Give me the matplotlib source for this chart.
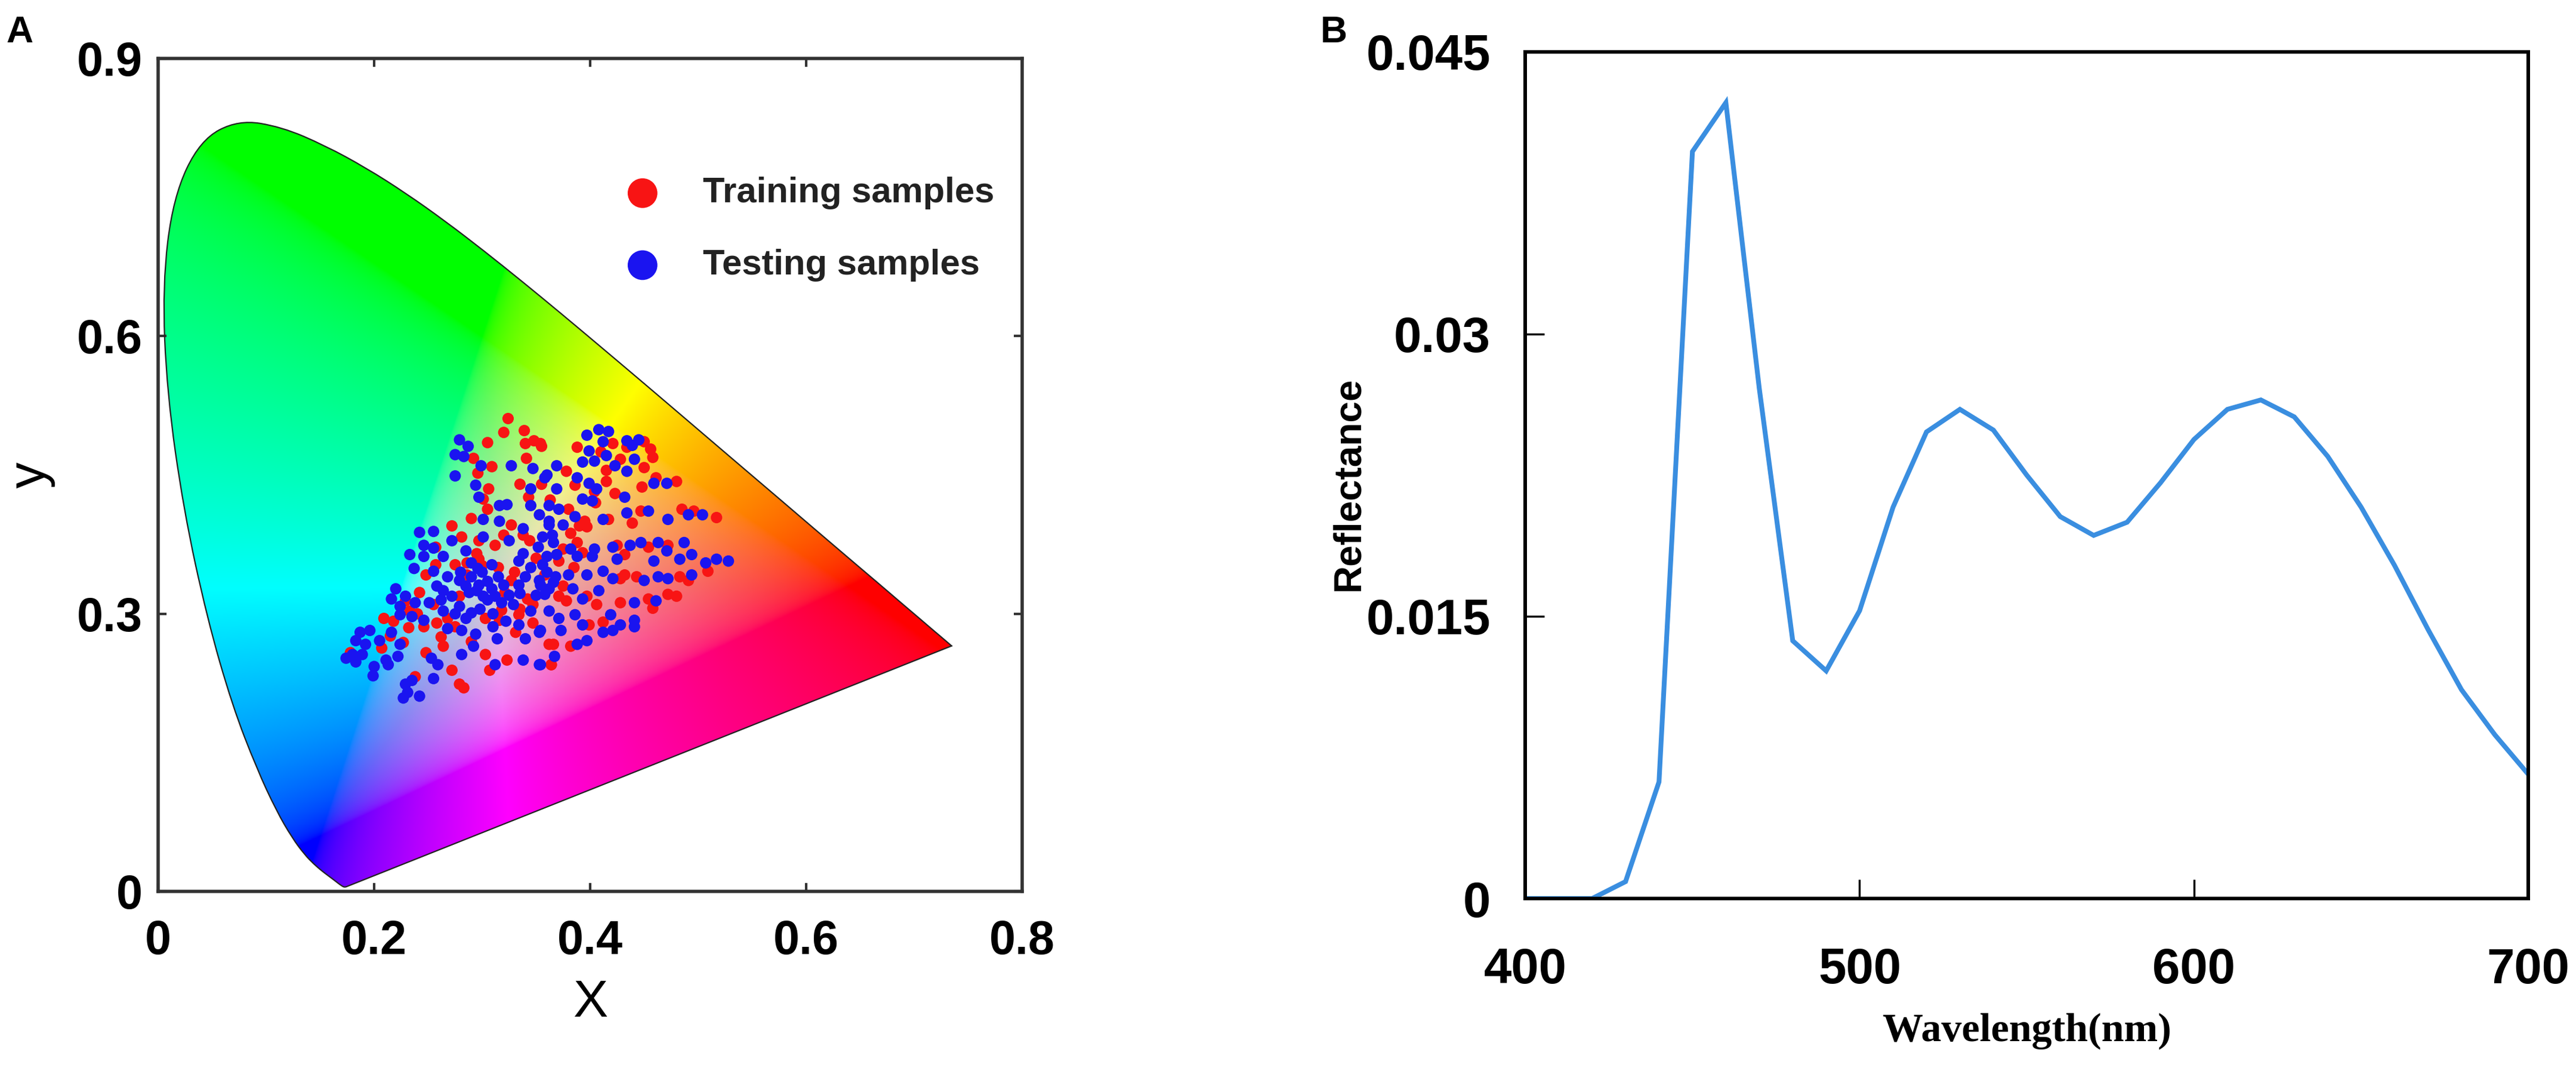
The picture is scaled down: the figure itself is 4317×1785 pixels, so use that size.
import numpy as np
import matplotlib
matplotlib.use("Agg")
import matplotlib.pyplot as plt
from matplotlib.path import Path
from matplotlib.patches import PathPatch

# CIE 1931 2-degree spectral locus, 380-700 nm every 5 nm
locus_x = [0.1741, 0.1740, 0.1738, 0.1736, 0.1733, 0.1730, 0.1726, 0.1721, 0.1714, 0.1703,
           0.1689, 0.1669, 0.1644, 0.1611, 0.1566, 0.1510, 0.1440, 0.1355, 0.1241, 0.1096,
           0.0913, 0.0687, 0.0454, 0.0235, 0.0082, 0.0039, 0.0139, 0.0389, 0.0743, 0.1142,
           0.1547, 0.1929, 0.2296, 0.2658, 0.3016, 0.3373, 0.3731, 0.4087, 0.4441, 0.4788,
           0.5125, 0.5448, 0.5752, 0.6029, 0.6270, 0.6482, 0.6658, 0.6801, 0.6915, 0.7006,
           0.7079, 0.7140, 0.7190, 0.7230, 0.7260, 0.7283, 0.7300, 0.7311, 0.7320, 0.7327,
           0.7334, 0.7340, 0.7344, 0.7346, 0.7347]
locus_y = [0.0050, 0.0050, 0.0049, 0.0049, 0.0048, 0.0048, 0.0048, 0.0048, 0.0051, 0.0058,
           0.0069, 0.0086, 0.0109, 0.0138, 0.0177, 0.0227, 0.0297, 0.0399, 0.0578, 0.0868,
           0.1327, 0.2007, 0.2950, 0.4127, 0.5384, 0.6548, 0.7502, 0.8120, 0.8338, 0.8262,
           0.8059, 0.7816, 0.7543, 0.7243, 0.6923, 0.6589, 0.6245, 0.5896, 0.5547, 0.5202,
           0.4866, 0.4544, 0.4242, 0.3965, 0.3725, 0.3514, 0.3340, 0.3197, 0.3083, 0.2993,
           0.2920, 0.2859, 0.2809, 0.2770, 0.2740, 0.2717, 0.2700, 0.2689, 0.2680, 0.2673,
           0.2666, 0.2660, 0.2656, 0.2654, 0.2653]

# training samples (red)
train_xy = [
    (0.324, 0.511), (0.320, 0.496), (0.339, 0.498), (0.305, 0.485), (0.340, 0.484), (0.348, 0.487),
    (0.355, 0.481), (0.341, 0.468), (0.292, 0.468), (0.309, 0.459), (0.296, 0.452), (0.335, 0.440),
    (0.343, 0.426), (0.306, 0.435), (0.301, 0.424), (0.305, 0.413), (0.290, 0.403), (0.327, 0.396),
    (0.272, 0.395), (0.281, 0.383), (0.297, 0.379), (0.344, 0.379), (0.312, 0.374), (0.257, 0.372),
    (0.248, 0.342), (0.257, 0.353), (0.275, 0.353), (0.286, 0.355), (0.297, 0.359), (0.327, 0.336),
    (0.321, 0.323), (0.342, 0.316), (0.242, 0.323), (0.229, 0.314), (0.279, 0.319), (0.255, 0.310),
    (0.209, 0.295), (0.218, 0.292), (0.233, 0.303), (0.246, 0.286), (0.215, 0.276), (0.227, 0.269),
    (0.207, 0.263), (0.248, 0.258), (0.264, 0.265), (0.303, 0.256), (0.323, 0.250), (0.307, 0.239),
    (0.272, 0.239), (0.279, 0.224), (0.283, 0.220), (0.238, 0.232), (0.275, 0.286), (0.303, 0.295),
    (0.316, 0.293), (0.331, 0.280), (0.362, 0.267), (0.364, 0.245), (0.347, 0.310), (0.334, 0.299),
    (0.358, 0.342), (0.318, 0.304), (0.178, 0.258), (0.286, 0.342),
    (0.354, 0.484), (0.388, 0.480), (0.410, 0.475), (0.421, 0.484), (0.434, 0.480), (0.450, 0.486),
    (0.456, 0.478), (0.458, 0.469), (0.450, 0.458), (0.428, 0.467), (0.448, 0.437), (0.461, 0.447),
    (0.480, 0.443), (0.378, 0.454), (0.386, 0.439), (0.415, 0.443), (0.423, 0.430), (0.404, 0.432),
    (0.380, 0.413), (0.395, 0.400), (0.397, 0.394), (0.417, 0.402), (0.439, 0.398), (0.447, 0.411),
    (0.485, 0.413), (0.496, 0.411), (0.517, 0.404), (0.382, 0.387), (0.388, 0.377), (0.393, 0.366),
    (0.371, 0.357), (0.425, 0.374), (0.432, 0.364), (0.454, 0.372), (0.472, 0.374), (0.509, 0.346),
    (0.432, 0.342), (0.443, 0.340), (0.483, 0.340), (0.491, 0.336), (0.371, 0.319), (0.378, 0.314),
    (0.397, 0.319), (0.406, 0.310), (0.428, 0.312), (0.454, 0.316), (0.458, 0.306), (0.472, 0.321),
    (0.480, 0.319), (0.399, 0.288), (0.412, 0.291), (0.366, 0.267), (0.382, 0.265), (0.364, 0.245),
    (0.428, 0.338),
    (0.330, 0.345), (0.315, 0.350), (0.300, 0.352), (0.295, 0.365), (0.335, 0.305), (0.347, 0.290),
    (0.268, 0.295), (0.258, 0.290), (0.240, 0.300), (0.232, 0.285), (0.262, 0.275), (0.290, 0.270),
    (0.350, 0.360), (0.338, 0.385), (0.320, 0.385), (0.375, 0.330), (0.385, 0.350), (0.375, 0.370),
    (0.390, 0.395), (0.405, 0.420), (0.415, 0.455), (0.363, 0.423), (0.355, 0.440),
]

# testing samples (blue)
test_xy = [
    (0.279, 0.488), (0.287, 0.481), (0.275, 0.472), (0.283, 0.470), (0.299, 0.460), (0.327, 0.460),
    (0.347, 0.457), (0.360, 0.450), (0.275, 0.449), (0.294, 0.439), (0.297, 0.426), (0.316, 0.417),
    (0.323, 0.418), (0.345, 0.435), (0.345, 0.417), (0.353, 0.407), (0.362, 0.396), (0.301, 0.402),
    (0.316, 0.400), (0.338, 0.392), (0.242, 0.388), (0.255, 0.389), (0.272, 0.379), (0.246, 0.374),
    (0.255, 0.371), (0.285, 0.368), (0.301, 0.383), (0.325, 0.379), (0.233, 0.364), (0.246, 0.362),
    (0.264, 0.362), (0.237, 0.349), (0.255, 0.346), (0.296, 0.349), (0.309, 0.353), (0.334, 0.357),
    (0.360, 0.362), (0.268, 0.340), (0.279, 0.336), (0.297, 0.331), (0.309, 0.327), (0.320, 0.331),
    (0.334, 0.331), (0.353, 0.336), (0.362, 0.327), (0.264, 0.325), (0.272, 0.319), (0.288, 0.323),
    (0.301, 0.319), (0.312, 0.319), (0.329, 0.310), (0.345, 0.303), (0.220, 0.327), (0.216, 0.316),
    (0.229, 0.319), (0.224, 0.308), (0.238, 0.312), (0.251, 0.312), (0.264, 0.303), (0.279, 0.308),
    (0.290, 0.301), (0.224, 0.299), (0.235, 0.297), (0.246, 0.293), (0.268, 0.284), (0.281, 0.282),
    (0.294, 0.278), (0.310, 0.286), (0.314, 0.273), (0.334, 0.288), (0.340, 0.273), (0.353, 0.280),
    (0.187, 0.280), (0.196, 0.282), (0.183, 0.271), (0.192, 0.267), (0.180, 0.256), (0.174, 0.252),
    (0.183, 0.248), (0.189, 0.256), (0.200, 0.243), (0.211, 0.250), (0.222, 0.254), (0.213, 0.245),
    (0.253, 0.252), (0.259, 0.245), (0.255, 0.230), (0.281, 0.256), (0.292, 0.265), (0.312, 0.245),
    (0.338, 0.250), (0.353, 0.245), (0.199, 0.233), (0.229, 0.224), (0.231, 0.215), (0.227, 0.209),
    (0.242, 0.211), (0.235, 0.228), (0.224, 0.267), (0.205, 0.271), (0.216, 0.280),
    (0.397, 0.493), (0.408, 0.499), (0.417, 0.497), (0.412, 0.486), (0.434, 0.487), (0.445, 0.488),
    (0.439, 0.482), (0.399, 0.476), (0.415, 0.471), (0.423, 0.460), (0.441, 0.467), (0.434, 0.454),
    (0.393, 0.464), (0.404, 0.465), (0.369, 0.460), (0.358, 0.447), (0.369, 0.435), (0.388, 0.447),
    (0.399, 0.441), (0.406, 0.435), (0.393, 0.424), (0.402, 0.422), (0.432, 0.426), (0.459, 0.441),
    (0.471, 0.441), (0.362, 0.417), (0.371, 0.413), (0.362, 0.400), (0.375, 0.396), (0.386, 0.405),
    (0.412, 0.402), (0.434, 0.409), (0.454, 0.411), (0.472, 0.402), (0.491, 0.407), (0.504, 0.407),
    (0.356, 0.383), (0.366, 0.377), (0.382, 0.370), (0.404, 0.370), (0.421, 0.372), (0.437, 0.374),
    (0.447, 0.377), (0.463, 0.377), (0.471, 0.368), (0.487, 0.377), (0.356, 0.353), (0.369, 0.364),
    (0.388, 0.362), (0.402, 0.362), (0.425, 0.359), (0.459, 0.357), (0.483, 0.359), (0.494, 0.364),
    (0.507, 0.355), (0.517, 0.359), (0.528, 0.357), (0.494, 0.342), (0.380, 0.342), (0.397, 0.342),
    (0.412, 0.346), (0.421, 0.338), (0.450, 0.336), (0.463, 0.340), (0.472, 0.338), (0.354, 0.331),
    (0.366, 0.334), (0.358, 0.321), (0.384, 0.327), (0.393, 0.316), (0.408, 0.325), (0.441, 0.312),
    (0.461, 0.314), (0.362, 0.303), (0.371, 0.295), (0.386, 0.299), (0.393, 0.288), (0.419, 0.299),
    (0.428, 0.288), (0.441, 0.293), (0.441, 0.286), (0.354, 0.282), (0.373, 0.282), (0.412, 0.280),
    (0.388, 0.267), (0.397, 0.271), (0.367, 0.254), (0.354, 0.245), (0.421, 0.282),
    (0.290, 0.340), (0.300, 0.345), (0.305, 0.335), (0.315, 0.340), (0.295, 0.325), (0.305, 0.315),
    (0.285, 0.330), (0.318, 0.312), (0.325, 0.320), (0.335, 0.322), (0.340, 0.340), (0.345, 0.350),
    (0.350, 0.320), (0.298, 0.305), (0.310, 0.300), (0.322, 0.292), (0.285, 0.295), (0.275, 0.300),
    (0.262, 0.315), (0.258, 0.330), (0.338, 0.365), (0.352, 0.372), (0.365, 0.385), (0.360, 0.345),
    (0.368, 0.340), (0.290, 0.355), (0.280, 0.345),
]

# reflectance spectrum, 400-700 nm every 10 nm
wavelength = list(range(400, 701, 10))
reflectance = [0.0, 0.0, 0.0, 0.0009, 0.0062, 0.0397, 0.0423, 0.0271, 0.0137, 0.0121,
               0.0153, 0.0208, 0.0248, 0.0260, 0.0249, 0.0225, 0.0203, 0.0193, 0.0200, 0.0221,
               0.0244, 0.0260, 0.0265, 0.0256, 0.0235, 0.0208, 0.0177, 0.0143, 0.0111, 0.0087,
               0.0066]

arial = ['Liberation Sans', 'DejaVu Sans']
times = ['Liberation Serif', 'DejaVu Serif']

fig = plt.figure(figsize=(43.17, 17.85), dpi=100)

# ---------------- panel A: chromaticity diagram ----------------
ax1 = fig.add_axes([0.0614, 0.163, 0.3354, 0.782])

gx = np.linspace(0, 0.8, 801)
gy = np.linspace(0.0005, 0.9, 901)
GX, GY = np.meshgrid(gx, gy)
Xc = GX / GY
Zc = (1 - GX - GY) / GY
R = 3.2406 * Xc - 1.5372 - 0.4986 * Zc
G = -0.9689 * Xc + 1.8758 + 0.0415 * Zc
B = 0.0557 * Xc - 0.2040 + 1.0570 * Zc
rgb = np.clip(np.dstack([R, G, B]), 0, None)
rgb = rgb / np.maximum(rgb.max(axis=2, keepdims=True), 1e-9)
sat = 1 - rgb.min(axis=2, keepdims=True)
rgb = np.where(rgb <= 0.0031308, 12.92 * rgb, 1.055 * rgb ** (1 / 2.4) - 0.055)
rgb = np.clip(rgb * (0.82 + 0.18 * sat), 0, 1)

img = ax1.imshow(rgb, extent=[0, 0.8, 0, 0.9], origin='lower', aspect='auto',
                 interpolation='bilinear', zorder=1)

# outline of the horseshoe, drawn with quadratic curves through the locus points
pts = np.column_stack([locus_x, locus_y])
verts = [pts[0], (pts[0] + pts[1]) / 2]
codes = [Path.MOVETO, Path.LINETO]
for i in range(1, len(pts) - 1):
    verts += [pts[i], (pts[i] + pts[i + 1]) / 2]
    codes += [Path.CURVE3, Path.CURVE3]
verts += [pts[-1], pts[0]]
codes += [Path.LINETO, Path.CLOSEPOLY]
horseshoe = PathPatch(Path(verts, codes), facecolor='none', edgecolor='#222222',
                      lw=1.6, zorder=2)
ax1.add_patch(horseshoe)
img.set_clip_path(horseshoe)

tr = np.array(train_xy)
te = np.array(test_xy)
s_tr = ax1.scatter(tr[:, 0], tr[:, 1], s=190, color='#f81414', edgecolors='none', zorder=3,
                   label='Training samples')
s_te = ax1.scatter(te[:, 0], te[:, 1], s=190, color='#1a14f0', edgecolors='none', zorder=4,
                   label='Testing samples')

leg = ax1.legend(handles=[s_tr, s_te], loc='upper left', bbox_to_anchor=(0.54, 0.858),
                 frameon=False, markerscale=2.6, handlelength=1.0, handletextpad=1.2,
                 borderpad=0, borderaxespad=0, labelspacing=1.1,
                 prop={'family': arial, 'weight': 'bold', 'size': 43})
for t in leg.get_texts():
    t.set_color('#222222')

ax1.set_xlim(0, 0.8)
ax1.set_ylim(0, 0.9)
ax1.set_xticks([0, 0.2, 0.4, 0.6, 0.8])
ax1.set_xticklabels(['0', '0.2', '0.4', '0.6', '0.8'])
ax1.set_yticks([0, 0.3, 0.6, 0.9])
ax1.set_yticklabels(['0', '0.3', '0.6', '0.9'])
ax1.tick_params(direction='in', length=10, width=3, color='#333333',
                top=True, right=True, labelsize=57)
ax1.tick_params(axis='x', pad=34)
ax1.tick_params(axis='y', pad=19)
for lab in ax1.get_xticklabels() + ax1.get_yticklabels():
    lab.set_family(arial)
    lab.set_fontweight('bold')
for sp in ax1.spines.values():
    sp.set_linewidth(4)
    sp.set_color('#333333')
ax1.set_xlabel('X', family=arial, fontsize=63)
ax1.set_ylabel('y', family=arial, fontsize=63)
ax1.xaxis.set_label_coords(0.5, -0.105)
ax1.yaxis.set_label_coords(-0.119, 0.5)

# ---------------- panel B: reflectance spectrum ----------------
ax2 = fig.add_axes([0.5921, 0.1563, 0.3894, 0.795])
ax2.plot(wavelength, reflectance, color='#3a8ee0', lw=5.8, solid_joinstyle='miter')
ax2.set_xlim(400, 700)
ax2.set_ylim(0, 0.045)
ax2.set_xticks([400, 500, 600, 700])
ax2.set_yticks([0, 0.015, 0.03, 0.045])
ax2.set_yticklabels(['0', '0.015', '0.03', '0.045'])
ax2.tick_params(direction='in', length=23, width=2.5, color='black', labelsize=60)
ax2.tick_params(axis='x', pad=58)
ax2.tick_params(axis='y', pad=42)
for lab in ax2.get_xticklabels() + ax2.get_yticklabels():
    lab.set_family(arial)
    lab.set_fontweight('bold')
for sp in ax2.spines.values():
    sp.set_linewidth(4.3)
    sp.set_color('black')
ax2.set_xlabel('Wavelength(nm)', family=times, fontweight='bold', fontsize=49)
ax2.set_ylabel('Reflectance', family=arial, fontweight='bold', fontsize=46)
ax2.xaxis.set_label_coords(0.5, -0.135)
ax2.yaxis.set_label_coords(-0.158, 0.49)

fig.text(0.0025, 0.986, 'A', family=arial, fontweight='bold', fontsize=45, va='top')
fig.text(0.5126, 0.986, 'B', family=arial, fontweight='bold', fontsize=45, va='top')

fig.savefig('out.png', dpi=100)
